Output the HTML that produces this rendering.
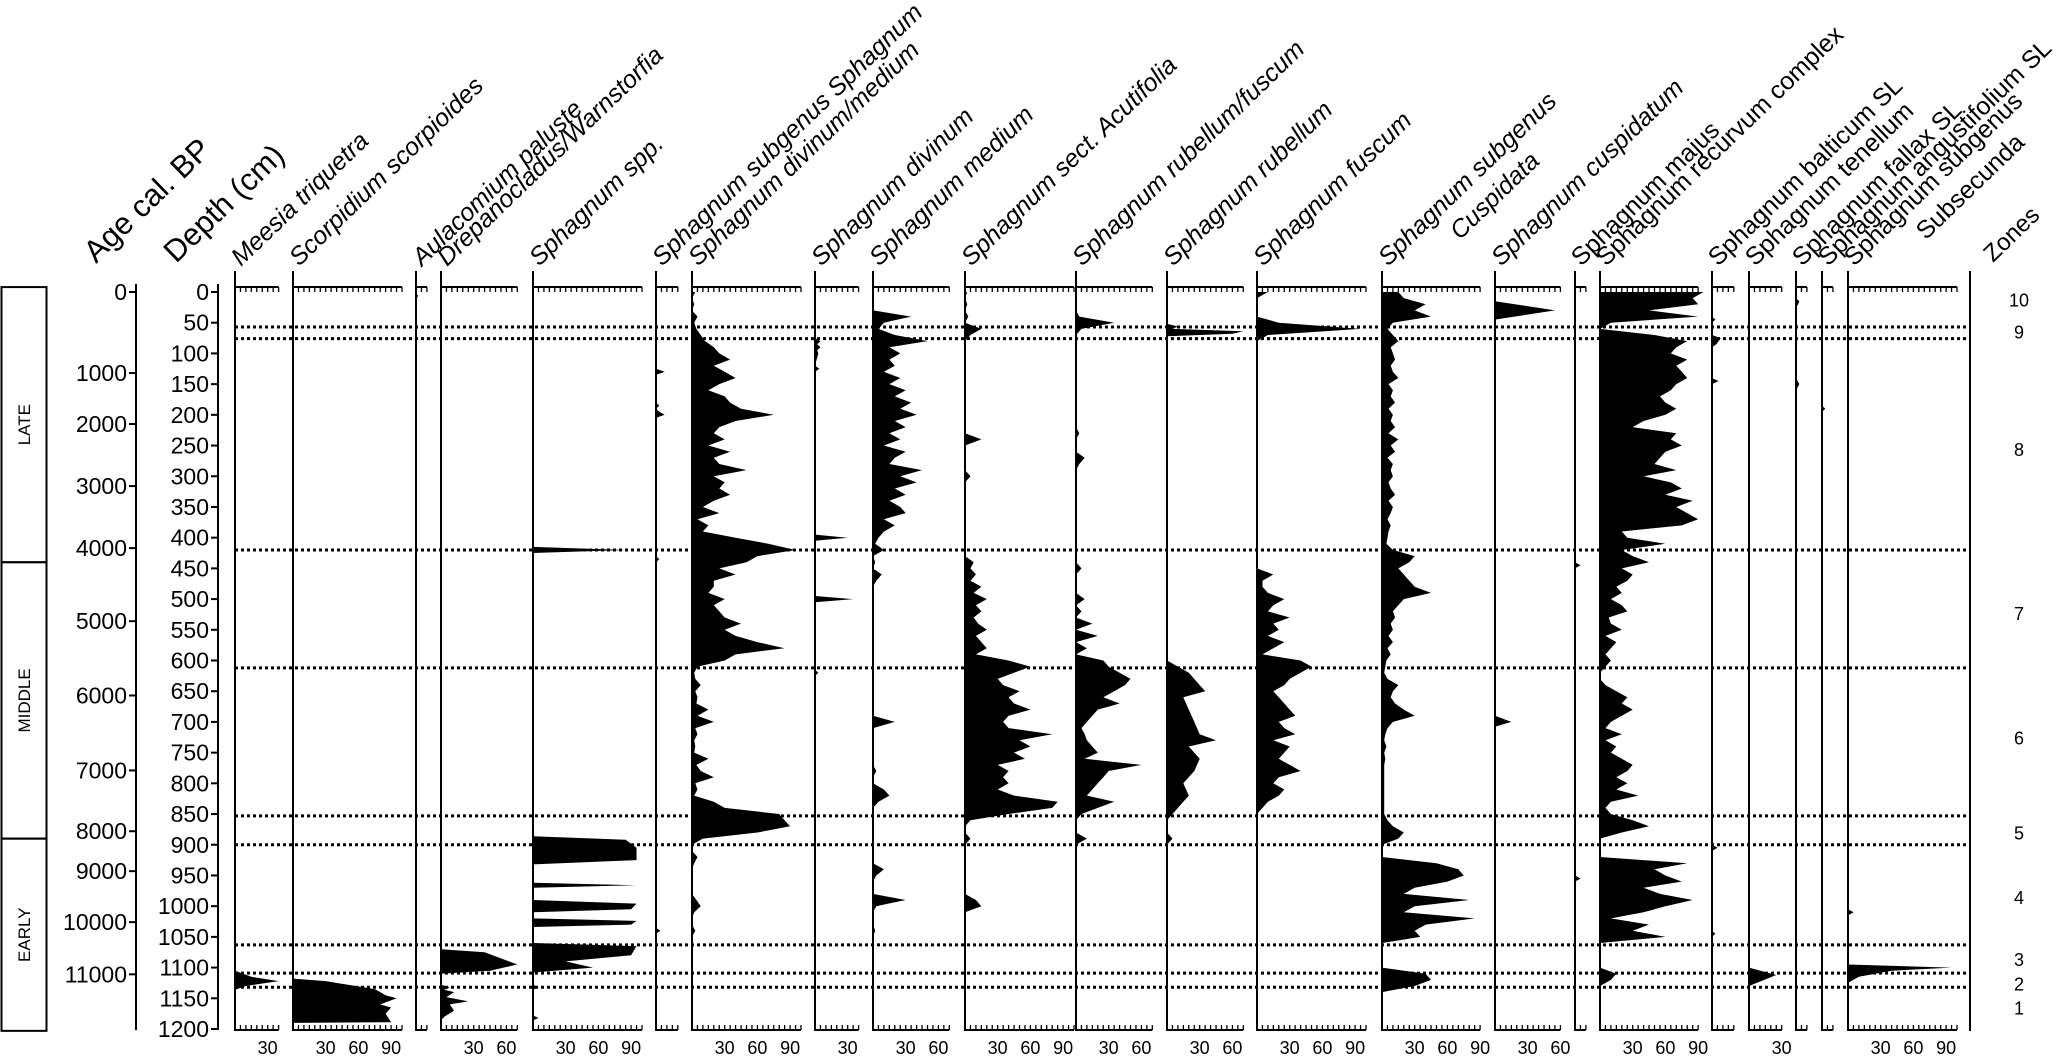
<!DOCTYPE html>
<html><head><meta charset="utf-8">
<style>
html,body{margin:0;padding:0;background:#fff;}
svg{display:block;font-family:"Liberation Sans",sans-serif;}
</style></head>
<body>
<svg id="chart" width="2067" height="1057" viewBox="0 0 2067 1057" xmlns="http://www.w3.org/2000/svg"></svg>
<script>
// ---------- DATA ----------
const depthTicks = [0,50,100,150,200,250,300,350,400,450,500,550,600,650,700,750,800,850,900,950,1000,1050,1100,1150,1200];
const ageTickLabels = [0,1000,2000,3000,4000,5000,6000,7000,8000,9000,10000,11000];
const ageTickDepths = [0,132,215,316,417,536,657,779,878,943,1026,1111];
const zoneBoundaries = [57,76,420,612,853,900,1063,1109,1132];
const zoneLabels = ["10","9","8","7","6","5","4","3","2","1"];
const zoneLabelDepths = [12,64,256,523,725,880,985,1086,1126,1165];
const periodNames = ["LATE","MIDDLE","EARLY"];
const periodBounds = [-8,440,890,1203];
const grid10 = Array.from({length:121},(_,i)=>i*10);

const vDivMed = [3,0,2,0,5,2,4,8,12,20, 25,35,20,30,40,25,15,30,35,45, 75,40,25,20,30,15,35,20,25,50, 20,30,25,35,20,10,25,5,15,10, 40,70,95,60,50,25,40,20,20,15, 30,20,25,30,45,30,40,60,85,40, 30,5,2,3,8,3,5,4,15,5, 20,3,5,2,3,2,15,4,8,20, 3,5,2,20,30,80,85,90,60,10, 0,0,5,2,0,0,0,0,0,4, 8,2,0,0,3,0,0,0,0,0, 0,0,0,0,0,0,0,0,0,0,0];
const vMedium = [0,0,0,0,35,10,5,20,50,15, 25,15,20,10,25,15,30,20,35,25, 40,20,30,15,25,10,30,20,15,45, 25,40,20,30,15,25,30,10,20,10, 5,2,10,0,2,0,8,3,0,0, 0,0,0,0,0,0,0,0,0,0, 0,0,0,0,0,0,0,0,0,0, 20,0,0,0,0,0,0,0,3,0, 0,10,15,5,0,0,0,0,0,0, 0,0,0,0,10,3,0,0,0,30, 3,0,0,0,2,0,0,0,0,0, 0,0,0,0,0,0,0,0,0,0,0];
const vAcutifolia = [2,0,2,0,3,0,15,5,0,0, 0,0,0,0,0,0,0,0,0,0, 0,0,0,0,15,0,0,0,0,0, 5,0,0,0,0,0,0,0,0,0, 0,0,0,0,8,5,10,5,15,8, 20,10,15,8,12,20,10,15,20,10, 40,60,45,30,35,50,40,45,60,40, 35,40,80,50,60,45,55,30,40,35, 40,30,45,85,80,40,5,0,0,5, 0,0,0,0,0,0,0,0,0,10, 15,0,0,0,0,0,0,0,0,0, 0,0,0,0,0,0,0,0,0,0,0];
const vRubFus = [0,0,0,0,3,35,5,0,0,0, 0,0,0,0,0,0,0,0,0,0, 0,0,0,3,0,0,0,8,3,0, 0,0,0,0,0,0,0,0,0,0, 0,0,0,0,0,5,0,0,0,0, 8,0,5,0,15,0,20,0,10,0, 25,30,40,50,45,35,25,40,20,15, 10,5,8,10,15,20,8,60,30,25, 20,15,10,35,20,5,0,0,0,10, 0,0,0,0,0,0,0,0,0,0, 0,0,0,0,0,0,0,0,0,0, 0,0,0,0,0,0,0,0,0,0,0];
const vFuscum = [10,0,0,0,0,20,95,10,0,0, 0,0,0,0,0,0,0,0,0,0, 0,0,0,0,0,0,0,0,0,0, 0,0,0,0,0,0,0,0,0,0, 0,0,0,0,0,0,15,5,5,10, 25,15,10,30,15,20,10,25,15,5, 40,50,40,30,25,15,20,25,30,35, 20,25,35,15,30,25,20,30,40,20, 15,25,20,10,5,0,0,0,0,0, 0,0,0,0,0,0,0,0,0,0, 0,0,0,0,0,0,0,0,0,0, 0,0,0,0,0,0,0,0,0,0,0];
const vCuspidata = [15,20,40,30,45,10,5,10,15,8, 10,12,8,10,15,6,10,8,12,6, 10,8,12,6,15,8,12,5,10,8, 10,6,8,12,6,10,8,5,8,6, 5,4,10,30,25,15,20,25,30,45, 20,15,10,12,8,10,6,10,5,8, 4,3,2,5,15,10,8,12,20,30, 10,5,3,2,4,2,3,2,2,2, 2,2,2,2,2,2,5,10,20,15, 0,0,0,50,70,75,60,30,20,80, 30,20,85,40,30,35,0,0,0,0, 0,40,45,30,0,0,0,0,0,0,0];
const vRecurvum = [95,85,90,45,90,10,0,50,80,70, 65,80,70,75,80,70,65,55,60,70, 60,40,30,70,65,75,60,55,50,70, 40,65,75,60,85,70,80,90,75,20, 25,60,20,30,45,20,30,25,15,20, 10,20,25,8,10,20,5,15,10,5, 10,5,0,0,5,15,25,20,30,20, 10,5,20,5,15,10,20,30,25,15, 25,15,35,10,5,10,30,45,20,0, 0,0,0,80,50,60,75,40,55,85, 60,40,10,45,30,60,0,0,0,0, 0,15,10,0,0,0,0,0,0,0,0];

const dMeesia = [0,1105,1115,1122,1130,1136,1200];
const vMeesia = [0,0,15,40,10,0,0];
const dScorp = [0,1118,1122,1135,1145,1150,1160,1165,1175,1189,1190,1200];
const vScorp = [0,0,30,75,85,95,80,90,85,90,0,0];
const dAula = [0,2,6,12,1200];
const vAula = [0,0,2,0,0];
const dDrep = [0,1070,1075,1085,1095,1105,1110,1128,1132,1136,1140,1148,1155,1160,1170,1180,1186,1200];
const vDrep = [0,0,40,55,70,45,0,0,8,3,12,5,25,8,12,3,0,0];
const dSphSpp = [0,415,420,425,886,892,905,925,932,962,966,970,990,996,1005,1010,1020,1024,1030,1034,1060,1065,1080,1090,1100,1108,1128,1132,1136,1178,1182,1186,1200];
const vSphSpp = [0,0,85,0,0,85,95,95,0,0,95,0,0,95,90,0,0,95,90,0,0,95,90,30,55,0,0,5,0,0,5,0,0];
const dSubSph = [0,125,130,135,180,185,190,195,200,205,430,435,440,1035,1040,1045,1200];
const vSubSph = [0,0,8,0,0,3,0,3,8,0,0,3,0,0,4,0,0];
const dDivinum = [0,75,80,85,90,95,100,120,125,130,395,400,405,495,500,505,615,620,625,1200];
const vDivinum = [0,0,5,2,5,2,3,0,4,0,0,30,0,0,35,0,0,3,0,0];
const dRubellum = [0,52,56,60,64,68,72,600,610,620,640,650,660,680,700,720,730,740,760,780,800,820,840,850,860,880,890,900,1200];
const vRubellum = [0,0,10,5,70,60,0,0,10,20,30,35,15,20,25,30,45,20,30,25,15,20,10,5,0,0,5,0,0];
const dCuspidatum = [0,15,30,45,690,700,708,1200];
const vCuspidatum = [0,0,55,0,0,15,0,0];
const dMajus = [0,440,445,450,950,955,960,1200];
const vMajus = [0,0,5,0,0,5,0,0];
const dBalticum = [0,40,45,50,70,75,85,90,140,145,150,900,905,910,1040,1045,1050,1200];
const vBalticum = [0,0,3,0,0,8,4,0,0,6,0,0,5,0,0,3,0,0];
const dTenellum = [0,1100,1112,1130,1200];
const vTenellum = [0,0,25,0,0];
const dFallax = [0,10,15,20,25,140,150,160,1200];
const vFallax = [0,0,3,2,0,0,3,0,0];
const dAngust = [0,185,190,195,1200];
const vAngust = [0,0,3,0,0];
const dSubsec = [0,1005,1010,1015,1095,1100,1105,1115,1125,1200];
const vSubsec = [0,0,5,0,0,95,40,10,0,0];

// ---------- LAYOUT ----------
const Y0 = 292, PXD = (1029-292)/1200, PXP = 1.09;
const yD = d => Y0 + d*PXD;
const svg = document.getElementById('chart');
const NS = 'http://www.w3.org/2000/svg';
function mk(tag, attrs, parent){ const e=document.createElementNS(NS,tag); for(const k in attrs) e.setAttribute(k,attrs[k]); (parent||svg).appendChild(e); return e; }

const panels = [
 {name:"Meesia triquetra", it:true, x:235, max:40, d:dMeesia, v:vMeesia, key:"meesia"},
 {name:"Scorpidium scorpioides", it:true, x:293, max:100, d:dScorp, v:vScorp, key:"scorpidium"},
 {name:"Aulacomium paluste", it:true, x:416, max:10, d:dAula, v:vAula, key:"aulacomnium"},
 {name:"Drepanocladus/Warnstorfia", it:true, x:441, max:70, d:dDrep, v:vDrep, key:"drepanocladus"},
 {name:"Sphagnum spp.", it:true, x:533, max:100, d:dSphSpp, v:vSphSpp, key:"sphagnum-spp"},
 {name:"Sphagnum subgenus Sphagnum", it:true, x:656, max:20, d:dSubSph, v:vSubSph, key:"subgenus-sphagnum"},
 {name:"Sphagnum divinum/medium", it:true, x:692, max:100, d:grid10, v:vDivMed, key:"divinum-medium"},
 {name:"Sphagnum divinum", it:true, x:815, max:40, d:dDivinum, v:vDivinum, key:"divinum"},
 {name:"Sphagnum medium", it:true, x:873, max:70, d:grid10, v:vMedium, key:"medium"},
 {name:"Sphagnum sect. Acutifolia", it:true, x:965, max:100, d:grid10, v:vAcutifolia, key:"acutifolia"},
 {name:"Sphagnum rubellum/fuscum", it:true, x:1076, max:70, d:grid10, v:vRubFus, key:"rubellum-fuscum"},
 {name:"Sphagnum rubellum", it:true, x:1167, max:70, d:dRubellum, v:vRubellum, key:"rubellum"},
 {name:"Sphagnum fuscum", it:true, x:1257, max:100, d:grid10, v:vFuscum, key:"fuscum"},
 {name:"Sphagnum subgenus", name2:"Cuspidata", it:true, x:1382, max:90, d:grid10, v:vCuspidata, key:"subgenus-cuspidata"},
 {name:"Sphagnum cuspidatum", it:true, x:1495, max:60, d:dCuspidatum, v:vCuspidatum, key:"cuspidatum"},
 {name:"Sphagnum majus", it:false, x:1575, max:10, d:dMajus, v:vMajus, key:"majus"},
 {name:"Sphagnum recurvum complex", it:false, x:1600, max:90, d:grid10, v:vRecurvum, key:"recurvum"},
 {name:"Sphagnum balticum SL", it:false, x:1712, max:20, d:dBalticum, v:vBalticum, key:"balticum"},
 {name:"Sphagnum tenellum", it:false, x:1749, max:30, d:dTenellum, v:vTenellum, key:"tenellum"},
 {name:"Sphagnum fallax SL", it:false, x:1796, max:10, d:dFallax, v:vFallax, key:"fallax"},
 {name:"Sphagnum angustifolium SL", it:false, x:1822, max:10, d:dAngust, v:vAngust, key:"angustifolium"},
 {name:"Sphagnum subgenus", name2:"Subsecunda", it:false, x:1848, max:100, d:dSubsec, v:vSubsec, key:"subgenus-subsecunda"}
];

// period box
const pb = mk('g',{});


periodNames.forEach((p,i)=>{
  const y1=yD(periodBounds[i]), y2=yD(periodBounds[i+1]);
  const r=mk('rect',{x:1.5,y:y1,width:45,height:y2-y1,fill:'none',stroke:'#000','stroke-width':2},pb);
  
  
  const t=mk('text',{x:0,y:0,'font-size':17,'text-anchor':'middle',transform:`translate(30,${(y1+y2)/2}) rotate(-90)`},pb);
  t.textContent=p;
  
  
});

// age axis
const ageG = mk('g',{});


mk('line',{x1:136,y1:Y0-8,x2:136,y2:1030,stroke:'#000','stroke-width':2},ageG);
ageTickLabels.forEach((a,i)=>{
  const y=yD(ageTickDepths[i]);
  mk('line',{x1:129,y1:y,x2:136,y2:y,stroke:'#000','stroke-width':2},ageG);
  const t=mk('text',{x:127,y:y+8,'font-size':23,'text-anchor':'end'},ageG);
  t.textContent=a;
  
  
});
// depth axis
const depG = mk('g',{});


mk('line',{x1:218,y1:Y0-8,x2:218,y2:1030,stroke:'#000','stroke-width':2},depG);
depthTicks.forEach(d=>{
  const y=yD(d);
  mk('line',{x1:211,y1:y,x2:218,y2:y,stroke:'#000','stroke-width':2},depG);
  const t=mk('text',{x:209,y:y+8,'font-size':23,'text-anchor':'end'},depG);
  t.textContent=d;
  
  
});

// headers
function header(txt,x,y,fs,italic,name,txt2){
  const t=mk('text',{x:0,y:0,'font-size':fs,'font-style':italic?'italic':'normal',transform:`translate(${x},${y}) rotate(-44)`});
  t.textContent=txt;
  if(txt2){ const s=mk('tspan',{x:70,dy:31},t); s.textContent=txt2; }
  
  
}
header("Age cal. BP",96,264,31,false,'age-axis-title');
header("Depth (cm)",176,264,31,false,'depth-axis-title');
header("Zones",1993,263,24,false,'zones-title');

// panels
panels.forEach(p=>{
  const g=mk('g',{});
  
  
  const xEnd=p.x+p.max*PXP;
  const pts=[[p.x,yD(p.d[0])]];
  p.d.forEach((d,i)=>pts.push([p.x+p.v[i]*PXP,yD(d)]));
  pts.push([p.x,yD(p.d[p.d.length-1])]);
  const poly=mk('polygon',{points:pts.map(q=>q[0].toFixed(1)+','+q[1].toFixed(1)).join(' '),fill:'#000'},g);
  
  
  mk('line',{x1:p.x,y1:271,x2:p.x,y2:1031,stroke:'#000','stroke-width':2},g);
  [287,1030].forEach((ya,k)=>{
    mk('line',{x1:p.x,y1:ya,x2:xEnd,y2:ya,stroke:'#000','stroke-width':2},g);
    for(let v=5;v<=p.max+0.01;v+=5){
      const x=p.x+v*PXP;
      mk('line',{x1:x,y1:ya,x2:x,y2:k?ya-5:ya+5,stroke:'#000','stroke-width':1.3},g);
    }
  });
  for(let v=30;v<=p.max;v+=30){
    const t=mk('text',{x:p.x+v*PXP,y:1054,'font-size':18,'text-anchor':'middle'},g);
    t.textContent=v;
    
    
  }
  header(p.name,p.x+6,267,25,p.it,'header-'+p.key,p.name2);
});

// zone lines
const zg=mk('g',{});


zoneBoundaries.forEach(d=>{
  const l=mk('line',{x1:235,y1:yD(d),x2:1966,y2:yD(d),stroke:'#000','stroke-width':3,'stroke-dasharray':'3,3'},zg);
  
  
});
mk('line',{x1:1970,y1:271,x2:1970,y2:1031,stroke:'#000','stroke-width':2},zg);
zoneLabels.forEach((z,i)=>{
  const t=mk('text',{x:2019,y:yD(zoneLabelDepths[i])+7,'font-size':18,'text-anchor':'middle'},zg);
  t.textContent=z;
  
  
});
</script>
</body></html>
